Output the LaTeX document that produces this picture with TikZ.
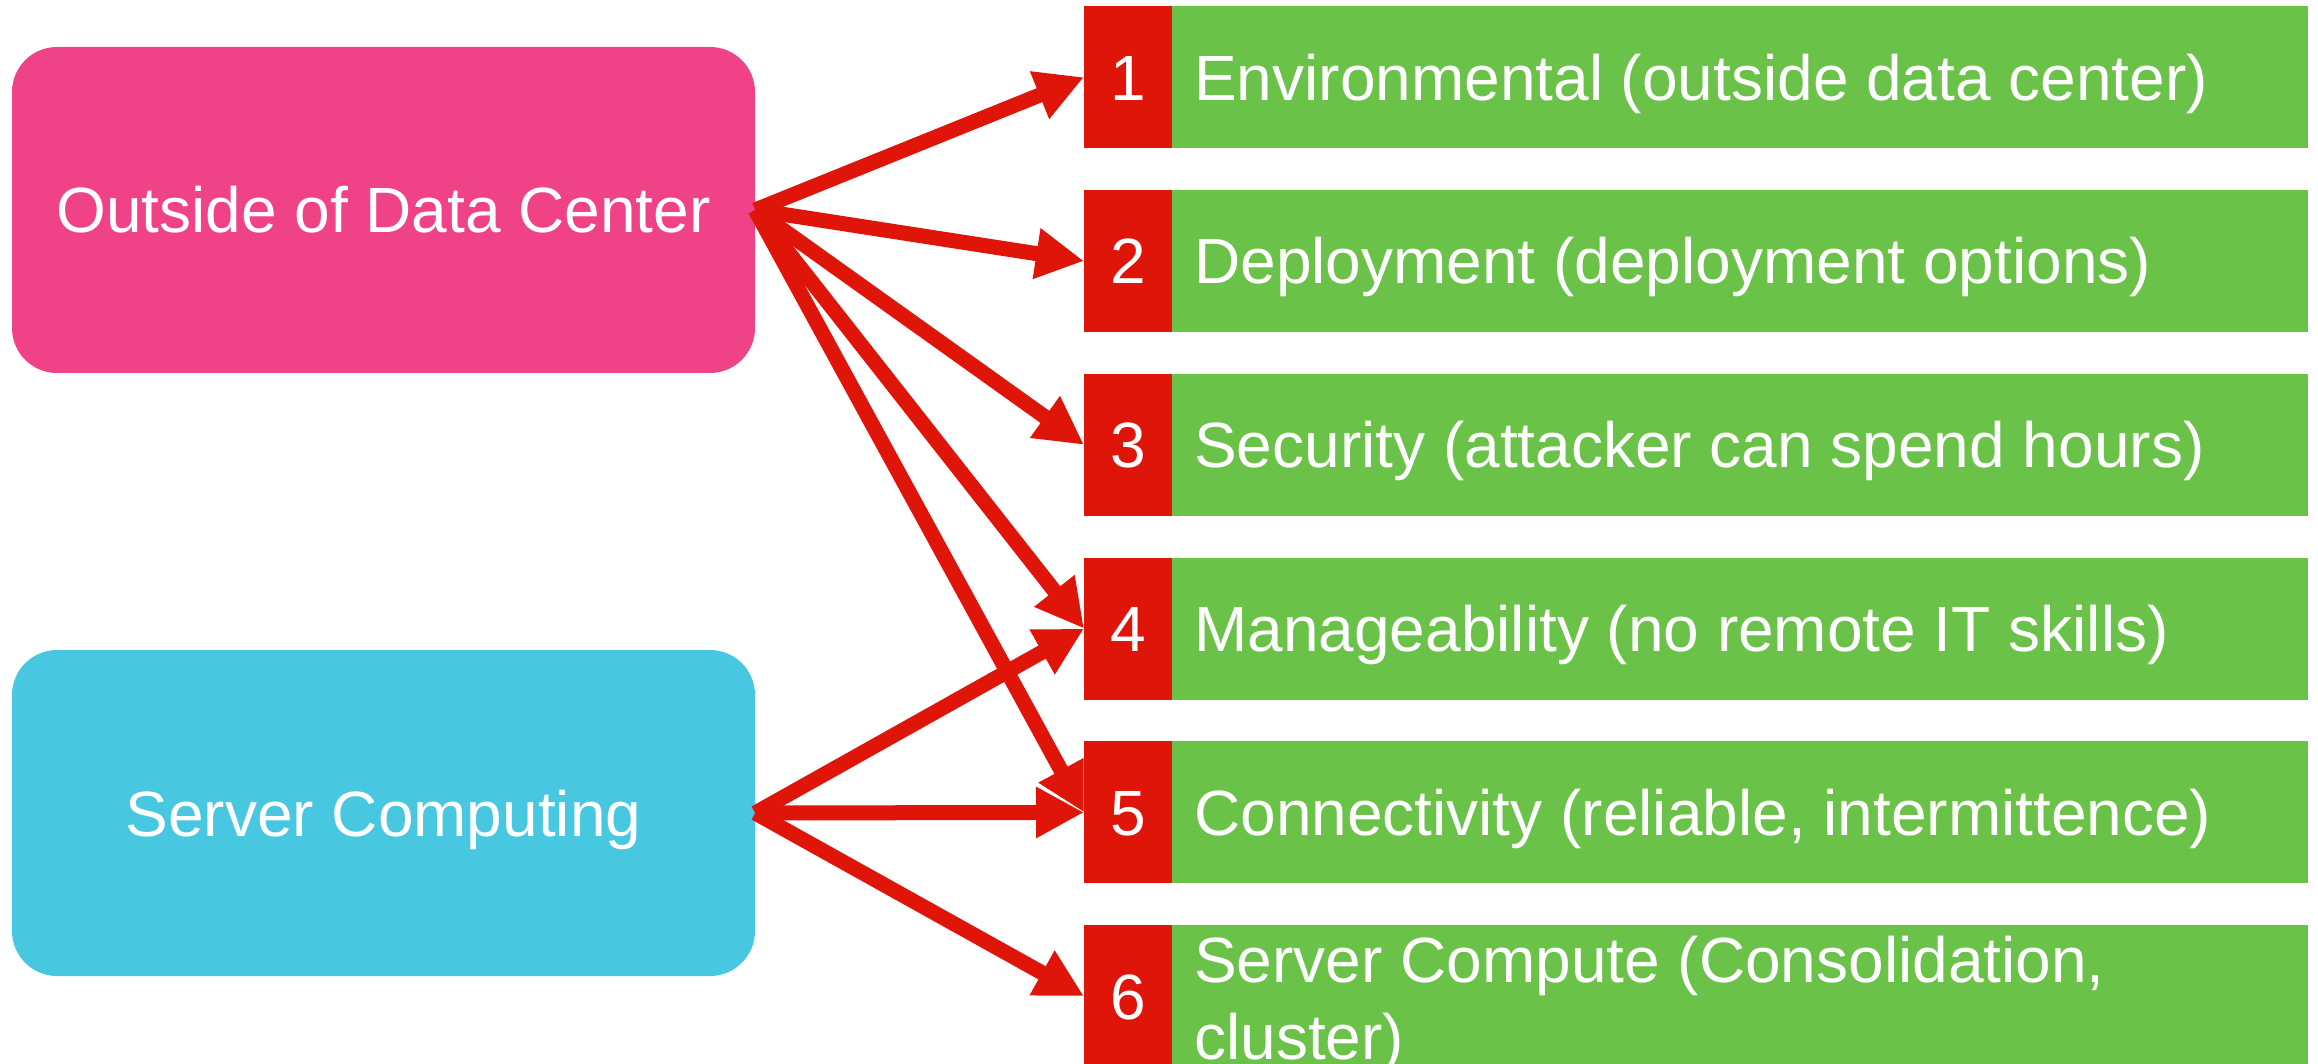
\documentclass[tikz,border=0pt]{standalone}
\usepackage{fontspec}
\setmainfont{Liberation Sans}
\usetikzlibrary{arrows.meta}
\definecolor{boxpink}{RGB}{240,66,135}
\definecolor{boxcyan}{RGB}{72,199,224}
\definecolor{numred}{RGB}{224,21,10}
\definecolor{itemgreen}{RGB}{106,194,72}
\begin{document}
\begin{tikzpicture}[x=1pt,y=-1pt,
  font=\fontsize{64}{77}\selectfont,
  group/.style={rounded corners=45pt, text=white, minimum width=743pt,
    minimum height=326pt, inner sep=0pt, text height=46pt, text depth=0pt},
  numbox/.style={fill=numred, text=white, minimum width=88pt, minimum height=142pt,
    inner sep=0pt, text height=46pt, text depth=0pt, anchor=north west},
  itembox/.style={fill=itemgreen, minimum width=1136pt, minimum height=142pt,
    inner sep=0pt, anchor=north west},
  itemtext/.style={text=white, anchor=base west, inner sep=0pt},
  link/.style={draw=numred, line width=15pt, -{Triangle[length=48pt,width=48pt]}}]

% page frame
\clip (0,0) rectangle (2318,1064);

% the two groups on the left
\node[group, fill=boxpink] (outside) at (383.5,210) {Outside of Data Center};
\node[group, fill=boxcyan] (server) at (383.5,813) {Server Computing};

% numbered list on the right
\node[numbox] (n1) at (1084,6)     {1};
\node[itembox] (g1) at (1172,6)    {};
\node[numbox] (n2) at (1084,189.8) {2};
\node[itembox] (g2) at (1172,189.8) {};
\node[numbox] (n3) at (1084,373.6) {3};
\node[itembox] (g3) at (1172,373.6) {};
\node[numbox] (n4) at (1084,557.4) {4};
\node[itembox] (g4) at (1172,557.4) {};
\node[numbox] (n5) at (1084,741.2) {5};
\node[itembox] (g5) at (1172,741.2) {};
\node[numbox] (n6) at (1084,925)   {6};
\node[itembox] (g6) at (1172,925)  {};

\node[itemtext] (t1) at ([xshift=22pt,yshift=-23pt]g1.west) {Environmental (outside data center)};
\node[itemtext] (t2) at ([xshift=22pt,yshift=-23pt]g2.west) {Deployment (deployment options)};
\node[itemtext] (t3) at ([xshift=22pt,yshift=-23pt]g3.west) {Security (attacker can spend hours)};
\node[itemtext] (t4) at ([xshift=22pt,yshift=-23pt]g4.west) {Manageability (no remote IT skills)};
\node[itemtext] (t5) at ([xshift=22pt,yshift=-23pt]g5.west) {Connectivity (reliable, intermittence)};
\node[itemtext] (t6) at ([xshift=22pt,yshift=14pt]g6.west)
  {\parbox[t]{1100pt}{Server Compute (Consolidation,\\cluster)}};

% connectors
\draw[link] (outside.east) -- (n1.west);
\draw[link] (outside.east) -- (n2.west);
\draw[link] (outside.east) -- (n3.west);
\draw[link] (outside.east) -- (n4.west);
\draw[link] (outside.east) -- (n5.west);
\draw[link] (server.east) -- (n4.west);
\draw[link] (server.east) -- (n5.west);
\draw[link] (server.east) -- (n6.west);
\end{tikzpicture}
\end{document}
